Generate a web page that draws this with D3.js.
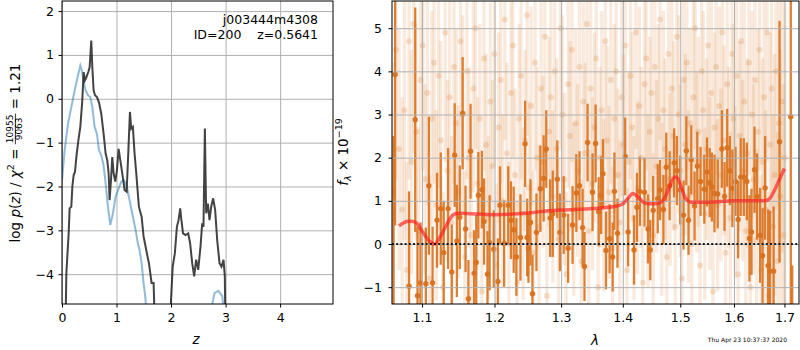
<!DOCTYPE html>
<html>
<head>
<meta charset="utf-8">
<script src="https://cdn.jsdelivr.net/npm/d3@7"></script>
<style>
  body { margin: 0; background: #fff; }
  text { font-family: "DejaVu Sans", sans-serif; }
</style>
</head>
<body>
<svg id="chart" width="800" height="350"></svg>
<script>
// ---- left panel: log p(z) curves ----
var zBlack = [0.06, 0.08, 0.122, 0.14, 0.171, 0.19, 0.214, 0.238, 0.263, 0.3, 0.336, 0.372, 0.397, 0.42, 0.446, 0.482, 0.507, 0.537, 0.556, 0.58,
  0.605, 0.641, 0.678, 0.72, 0.763, 0.8, 0.83, 0.855, 0.873, 0.898, 0.922, 0.947, 0.977, 1.008, 1.038, 1.069, 1.105, 1.148, 1.185, 1.215,
  1.246, 1.27, 1.3, 1.331, 1.362, 1.41, 1.46, 1.496, 1.545, 1.594, 1.643, 1.68, 1.71, 1.98, 2.0, 2.03, 2.07, 2.107, 2.137, 2.168,
  2.19, 2.22, 2.266, 2.315, 2.35, 2.388, 2.424, 2.46, 2.498, 2.54, 2.571, 2.595, 2.62, 2.644, 2.675, 2.705, 2.736, 2.772, 2.809, 2.846,
  2.889, 2.925, 2.962, 2.986, 3.0];
var pBlack = [-5.5, -3.98, -3.07, -2.5, -2.46, -2.0, -1.74, -1.67, -1.33, -0.95, -0.64, -0.04, 0.61, 0.42, 0.49, 0.61, 0.72, 1.33, 0.72, 0.19,
  0.08, 0.04, -0.08, -0.34, -0.8, -1.25, -1.4, -1.7, -2.31, -1.86, -1.33, -1.7, -1.89, -1.63, -1.14, -1.4, -1.7, -2.08, -2.12, -1.25,
  -0.3, -0.68, -0.64, -1.25, -1.7, -2.46, -2.69, -3.14, -3.45, -3.75, -4.2, -4.2, -5.5, -5.5, -4.58, -3.83, -3.52, -2.92, -2.77, -2.5,
  -2.77, -3.07, -3.11, -3.07, -3.3, -3.75, -4.05, -3.67, -3.9, -3.37, -2.84, -2.92, -0.68, -2.61, -2.39, -2.77, -2.46, -2.27, -2.54, -3.22,
  -3.75, -3.83, -3.67, -4.05, -5.5];
var zBlue = [0.0, 0.049, 0.11, 0.171, 0.232, 0.293, 0.336, 0.366, 0.397, 0.434, 0.476, 0.519, 0.556, 0.598, 0.641, 0.678, 0.72, 0.763, 0.8, 0.843,
  0.885, 0.934, 0.983, 1.038, 1.087, 1.136, 1.19, 1.252, 1.3, 1.35, 1.392, 1.423, 1.46, 1.496, 1.533, 1.56, 2.7, 2.72, 2.797, 2.87,
  2.94, 2.98];
var pBlue = [-1.86, -1.17, -0.57, -0.19, 0.19, 0.53, 0.76, 0.64, 0.38, 0.19, 0.08, 0.04, -0.19, -0.64, -0.8, -1.17, -1.29, -1.52, -1.93, -2.46,
  -2.88, -2.61, -2.23, -2.05, -1.89, -1.86, -2.0, -2.39, -2.69, -2.99, -3.3, -3.45, -3.75, -4.2, -4.58, -5.5, -5.5, -4.9, -4.43, -4.38,
  -4.5, -5.0];
var zTicks = [0, 1, 2, 3, 4];
var pTicks = [-4, -3, -2, -1, 0, 1, 2];

// ---- right panel: spectrum ----
// faint (other) spectral pixels
var waveFaint = [1.062, 1.066, 1.070, 1.074, 1.077, 1.080, 1.083, 1.086, 1.089, 1.092, 1.095, 1.098, 1.101, 1.104, 1.107, 1.110, 1.113, 1.116, 1.119, 1.122,
  1.125, 1.128, 1.131, 1.134, 1.137, 1.140, 1.143, 1.146, 1.149, 1.152, 1.155, 1.158, 1.161, 1.164, 1.167, 1.170, 1.173, 1.176, 1.179, 1.182,
  1.185, 1.188, 1.191, 1.194, 1.197, 1.200, 1.203, 1.206, 1.209, 1.212, 1.215, 1.218, 1.221, 1.224, 1.227, 1.230, 1.233, 1.236, 1.239, 1.242,
  1.245, 1.248, 1.251, 1.254, 1.257, 1.260, 1.263, 1.266, 1.269, 1.272, 1.275, 1.278, 1.281, 1.284, 1.287, 1.290, 1.293, 1.296, 1.299, 1.302,
  1.305, 1.308, 1.311, 1.314, 1.317, 1.320, 1.323, 1.326, 1.329, 1.332, 1.335, 1.338, 1.341, 1.344, 1.347, 1.350, 1.353, 1.356, 1.359, 1.362,
  1.365, 1.368, 1.371, 1.374, 1.377, 1.380, 1.383, 1.386, 1.389, 1.392, 1.395, 1.398, 1.401, 1.404, 1.407, 1.410, 1.413, 1.416, 1.419, 1.422,
  1.425, 1.428, 1.431, 1.434, 1.437, 1.440, 1.443, 1.446, 1.449, 1.452, 1.455, 1.458, 1.461, 1.464, 1.467, 1.470, 1.473, 1.476, 1.479, 1.482,
  1.485, 1.488, 1.491, 1.494, 1.497, 1.500, 1.503, 1.506, 1.509, 1.512, 1.515, 1.518, 1.521, 1.524, 1.527, 1.530, 1.533, 1.536, 1.539, 1.542,
  1.545, 1.548, 1.551, 1.554, 1.557, 1.560, 1.563, 1.566, 1.569, 1.572, 1.575, 1.578, 1.581, 1.584, 1.587, 1.590, 1.593, 1.596, 1.599, 1.602,
  1.605, 1.608, 1.611, 1.614, 1.617, 1.620, 1.623, 1.626, 1.629, 1.632, 1.635, 1.638, 1.641, 1.644, 1.647, 1.650, 1.653, 1.656, 1.659, 1.662,
  1.665, 1.668, 1.671, 1.674, 1.677, 1.680, 1.683, 1.686, 1.689, 1.692, 1.695, 1.698, 1.701];
var fluxFaint = [1.2, 4.5, 2.2, 0.8, 3.1, -0.6, 4.7, 1.9, 5.1, 2.6, 0.3, 3.8, 4.6, 1.5, 3.5, -0.8, 2.9, 4.2, 0.9, 3.9,
  2.4, -1.0, 4.9, 1.7, 3.4, 0.5, 4.1, 2.8, 1.2, 4.7, 3.0, -0.3, 4.0, 2.0, 0.2, 3.6, 5.0, 1.4, 2.9, -1.1,
  4.3, 2.3, 0.6, 3.3, 1.8, 4.4, -0.5, 2.7, 3.8, 1.0, 5.2, 2.1, 0.0, 3.5, 4.6, 1.6, -0.9, 2.9, 3.9, 0.7,
  2.4, 5.3, 1.3, 3.2, -0.2, 4.2, 2.0, 0.4, 3.6, 1.9, 4.8, -1.2, 2.6, 3.4, 1.1, 4.0, 2.2, 0.1, 5.0, 3.0,
  1.5, -0.7, 3.7, 2.5, 4.5, 0.8, 2.8, 1.7, 4.1, -0.4, 3.3, 2.1, 5.1, 0.3, 3.6, 1.4, 2.7, 4.3, -1.0, 2.0,
  3.1, 0.9, 4.7, 2.4, 1.2, 3.8, -0.1, 2.9, 4.0, 1.6, 0.5, 3.4, 2.3, 4.6, -0.6, 1.9, 3.9, 2.7, 0.6, 4.9,
  1.3, 3.2, 2.0, -0.9, 3.7, 4.3, 1.0, 2.6, 3.5, 0.2, 4.1, 1.8, 2.9, 5.2, 0.8, 3.1, 2.2, -0.3, 4.4, 1.5,
  3.6, 2.5, 0.4, 4.8, 3.0, 1.7, -0.8, 3.8, 2.3, 4.2, 1.1, 2.8, 0.0, 3.4, 5.0, 1.9, 2.6, -0.5, 4.0, 3.1,
  0.7, 2.2, 4.6, 1.4, 3.5, -1.1, 2.7, 4.1, 0.9, 3.2, 1.6, 4.9, 2.4, -0.2, 3.7, 2.0, 0.6, 4.4, 2.9, 1.2,
  3.9, -0.7, 2.5, 4.7, 1.7, 3.3, 0.3, 2.1, 4.2, -1.0, 3.0, 1.5, 3.8, 0.1, 2.6, 4.5, -0.6, 1.9, 3.4, 0.8,
  4.9, -1.2, 2.3, 3.6, 0.4, 1.6, 4.0, -0.4, 2.8, 1.1, 3.3, 0.2, 2.0];
var errFaint = [3.0, 3.0, 2.8, 2.6, 3.0, 2.5, 3.2, 2.6, 3.0, 2.5, 2.4, 2.8, 2.9, 2.2, 2.6, 2.4, 2.5, 2.8, 2.2, 2.6,
  2.3, 2.2, 3.0, 2.1, 2.5, 2.0, 2.7, 2.2, 2.0, 2.8, 2.3, 2.0, 2.5, 2.1, 1.9, 2.4, 2.8, 2.0, 2.2, 2.0,
  2.6, 2.1, 1.9, 2.3, 2.0, 2.6, 1.9, 2.2, 2.4, 2.0, 2.8, 2.1, 1.9, 2.3, 2.6, 2.0, 1.9, 2.2, 2.4, 2.0,
  2.1, 2.8, 2.0, 2.3, 1.9, 2.5, 2.1, 1.9, 2.3, 2.0, 2.7, 2.0, 2.2, 2.3, 2.0, 2.5, 2.1, 1.9, 2.8, 2.3,
  2.0, 1.9, 2.4, 2.2, 2.6, 2.0, 2.2, 2.0, 2.5, 1.9, 2.3, 2.1, 2.8, 1.9, 2.4, 2.0, 2.2, 2.6, 2.0, 2.1,
  2.3, 2.0, 2.7, 2.2, 2.0, 2.4, 1.9, 2.2, 2.5, 2.0, 1.9, 2.3, 2.1, 2.6, 1.9, 2.1, 2.4, 2.2, 1.9, 2.7,
  2.0, 2.3, 2.1, 1.9, 2.4, 2.6, 2.0, 2.2, 2.3, 1.9, 2.5, 2.0, 2.2, 2.8, 2.0, 2.3, 2.1, 1.9, 2.6, 2.0,
  2.4, 2.2, 1.9, 2.7, 2.3, 2.0, 1.9, 2.4, 2.1, 2.5, 2.0, 2.2, 1.9, 2.3, 2.8, 2.1, 2.2, 1.9, 2.5, 2.3,
  2.0, 2.1, 2.6, 2.0, 2.3, 2.0, 2.2, 2.5, 2.0, 2.3, 2.0, 2.7, 2.2, 1.9, 2.4, 2.1, 2.0, 2.6, 2.2, 2.0,
  2.4, 1.9, 2.2, 2.7, 2.1, 2.3, 2.0, 2.2, 2.6, 2.0, 2.4, 2.2, 2.6, 2.1, 2.4, 2.8, 2.2, 2.4, 2.6, 2.3,
  3.0, 2.4, 2.6, 2.9, 2.6, 2.8, 3.2, 3.0, 3.2, 3.4, 3.5, 3.5, 3.6];

// main (opaque) spectral pixels
var waveOp = [1.063, 1.065, 1.083, 1.091, 1.094, 1.098, 1.105, 1.109, 1.114, 1.120,
  1.125, 1.129, 1.135, 1.140, 1.144, 1.147, 1.151, 1.155, 1.159, 1.163,
  1.166, 1.171, 1.174, 1.177, 1.182, 1.185, 1.190, 1.193, 1.199, 1.205,
  1.208, 1.214, 1.220, 1.224, 1.228, 1.232, 1.238, 1.245, 1.248, 1.250,
  1.253, 1.256, 1.262, 1.268, 1.273, 1.277, 1.283, 1.287, 1.294, 1.298,
  1.304, 1.311, 1.318, 1.324, 1.329, 1.334, 1.337, 1.342, 1.350, 1.355,
  1.360, 1.364, 1.367, 1.372, 1.378, 1.383, 1.386, 1.391, 1.404, 1.409,
  1.419, 1.424, 1.429, 1.437, 1.443, 1.447, 1.452, 1.460, 1.464, 1.470,
  1.475, 1.481, 1.489, 1.494, 1.500, 1.506, 1.511, 1.515, 1.520, 1.526,
  1.531, 1.537, 1.544, 1.549, 1.554, 1.558, 1.563, 1.569, 1.577, 1.582,
  1.587, 1.592, 1.597, 1.603, 1.608, 1.613, 1.619, 1.625, 1.630, 1.634,
  1.640, 1.645, 1.651, 1.656, 1.661, 1.667, 1.671, 1.678, 1.690, 1.713,
  1.716];
var fluxOp = [-2.0, 3.93, -0.98, 2.88, -1.2, -0.9, -0.92, 1.35, -0.9, 0.55,
  0.82, -0.2, 0.82, -0.65, 2.06, 0.07, 0.62, 3.03, 0.35, -1.27,
  2.15, -0.68, -0.43, 1.13, 1.26, 0.52, -0.7, 0.03, -0.12, -0.87,
  0.9, 0.01, 0.9, 0.55, 0.33, -0.3, 0.15, 2.32, 0.15, -0.1,
  0.5, -1.15, 0.27, 1.28, 1.52, 2.2, 0.6, 0.7, 1.5, 0.27,
  0.67, -0.1, 0.44, 1.18, 1.35, 0.38, -0.52, 2.35, 1.2, 2.33,
  0.75, 1.13, 1.63, -0.15, 0.12, -0.3, 1.22, 0.25, 2.03, 0.28,
  -0.14, 0.85, 1.22, 1.2, 0.35, -0.14, 0.78, 1.05, 1.25, 0.8,
  1.78, 1.35, 1.88, 1.7, 1.25, 0.67, 2.16, 0.55, 1.95, 0.88,
  1.8, 1.45, 1.27, 1.67, 1.42, 1.32, 1.17, 1.16, 2.2, 1.1,
  2.23, 1.7, 1.29, 1.45, 0.57, 1.55, 1.55, 1.45, 0.13, 0.28,
  1.72, 1.1, 0.2, -0.27, 1.3, -0.5, -0.63, -0.63, 2.37, 2.95,
  -3.5];
var errOp = [4.5, 3.5, 2.2, 2.6, 1.6, 1.4, 1.3, 1.6, 1.3, 1.1,
  1.3, 1.2, 1.4, 1.1, 1.2, 1.3, 1.2, 1.3, 1.0, 0.9,
  1.1, 1.0, 1.1, 1.0, 0.9, 1.0, 1.0, 1.1, 0.9, 1.0,
  0.9, 1.0, 0.9, 0.9, 1.0, 0.9, 1.0, 1.0, 0.9, 0.8,
  1.0, 0.9, 0.9, 1.0, 1.0, 0.9, 0.9, 1.0, 0.9, 0.9,
  0.9, 0.8, 0.9, 0.9, 0.8, 0.9, 0.8, 0.9, 0.9, 0.9,
  0.8, 0.9, 0.8, 0.9, 0.8, 0.8, 0.9, 0.8, 0.9, 0.8,
  0.8, 0.8, 0.8, 0.8, 0.8, 0.7, 0.8, 0.8, 0.7, 0.8,
  0.8, 0.8, 0.8, 0.8, 0.8, 0.8, 0.8, 0.8, 0.8, 0.8,
  0.8, 0.8, 0.8, 0.8, 0.8, 0.8, 0.9, 0.8, 0.9, 0.8,
  0.9, 0.8, 0.9, 0.8, 0.9, 0.9, 0.9, 0.9, 1.0, 1.0,
  1.0, 1.0, 1.1, 1.1, 1.2, 1.3, 1.4, 1.5, 2.8, 4.5,
  3.0];

// best-fit model
var waveModel = [1.07, 1.075, 1.08, 1.087, 1.093, 1.10, 1.107, 1.113, 1.117, 1.122, 1.13, 1.138, 1.145, 1.15, 1.2, 1.25, 1.28, 1.30, 1.35, 1.39,
  1.40, 1.41, 1.417, 1.425, 1.435, 1.445, 1.46, 1.47, 1.48, 1.49, 1.495, 1.50, 1.51, 1.52, 1.55, 1.60, 1.66, 1.67, 1.68, 1.69, 1.70];
var fluxModel = [0.42, 0.48, 0.52, 0.53, 0.48, 0.3, 0.12, 0.02, 0.0, 0.1, 0.35, 0.6, 0.7, 0.71, 0.68, 0.72, 0.77, 0.79, 0.82, 0.88,
  0.93, 1.08, 1.17, 1.1, 0.97, 0.93, 0.94, 1.02, 1.3, 1.55, 1.53, 1.38, 1.05, 0.97, 0.97, 1.0, 1.0, 1.05, 1.25, 1.5, 1.75];

var lamTicks = [1.1, 1.2, 1.3, 1.4, 1.5, 1.6, 1.7];
var fTicks = [-1, 0, 1, 2, 3, 4, 5];

const svg = d3.select('#chart');
const orange = '#d9711d';
const gridColor = '#b0b0b0';

// ---------------- left panel ----------------
const L = { left: 62, right: 333, top: 1, bottom: 304 };
const xz = d3.scaleLinear().domain([0, 4.97]).range([L.left, L.right]);
const yp = d3.scaleLinear().domain([-4.68, 2.23]).range([L.bottom, L.top]);

svg.append('clipPath').attr('id', 'clipL')
  .append('rect').attr('x', L.left).attr('y', L.top)
  .attr('width', L.right - L.left).attr('height', L.bottom - L.top);

// grid
svg.append('g').attr('transform', `translate(0,${L.bottom})`)
  .call(d3.axisBottom(xz).tickValues(zTicks).tickSize(-(L.bottom - L.top)).tickFormat(''))
  .call(g => g.select('.domain').remove())
  .selectAll('line').attr('stroke', gridColor).attr('stroke-width', 1);
svg.append('g').attr('transform', `translate(${L.left},0)`)
  .call(d3.axisLeft(yp).tickValues(pTicks).tickSize(-(L.right - L.left)).tickFormat(''))
  .call(g => g.select('.domain').remove())
  .selectAll('line').attr('stroke', gridColor).attr('stroke-width', 1);

const lineL = (xs, ys) => d3.line().x((d, i) => xz(xs[i])).y((d, i) => yp(ys[i]))(xs);

const gl = svg.append('g').attr('clip-path', 'url(#clipL)');
gl.append('path').attr('d', lineL(zBlue, pBlue))
  .attr('fill', 'none').attr('stroke', '#1f77b4').attr('stroke-opacity', 0.5).attr('stroke-width', 2);
gl.append('path').attr('d', lineL(zBlack, pBlack))
  .attr('fill', 'none').attr('stroke', '#222').attr('stroke-opacity', 0.85).attr('stroke-width', 2);

// axes
const axL = svg.append('g').attr('transform', `translate(0,${L.bottom})`)
  .call(d3.axisBottom(xz).tickValues(zTicks).tickSize(3.5).tickPadding(6).tickFormat(d3.format('d')));
const ayL = svg.append('g').attr('transform', `translate(${L.left},0)`)
  .call(d3.axisLeft(yp).tickValues(pTicks).tickSize(3.5).tickPadding(4.5).tickFormat(d => d < 0 ? '\u2212' + Math.abs(d) : d));
[axL, ayL].forEach(a => {
  a.select('.domain').remove();
  a.selectAll('text').attr('font-size', 12.5).attr('fill', '#000').attr('font-family', 'DejaVu Sans');
  a.selectAll('line').attr('stroke', '#000');
});
svg.append('rect').attr('x', L.left).attr('y', L.top)
  .attr('width', L.right - L.left).attr('height', L.bottom - L.top)
  .attr('fill', 'none').attr('stroke', '#000').attr('stroke-width', 1);

svg.append('text').attr('x', 318).attr('y', 24).attr('text-anchor', 'end')
  .attr('font-size', 12.5).text('j003444m4308');
svg.append('text').attr('x', 318).attr('y', 39).attr('text-anchor', 'end')
  .attr('font-size', 12.5).style('white-space', 'pre').text('ID=200    z=0.5641');

svg.append('text').attr('x', 196).attr('y', 344).attr('text-anchor', 'middle')
  .attr('font-size', 13.5).attr('font-style', 'italic').text('z');

// rotated math label builder
function mathLabel(cx, cy, parts) {
  const g = svg.append('g').attr('transform', `translate(${cx},${cy}) rotate(-90)`);
  let x = 0;
  parts.forEach(p => {
    if (p.frac) {
      const n = g.append('text').attr('font-size', p.size).attr('y', p.ny).text(p.frac[0]);
      const d = g.append('text').attr('font-size', p.size).attr('y', p.dy).text(p.frac[1]);
      const wn = n.node().getComputedTextLength(), wd = d.node().getComputedTextLength();
      const w = Math.max(wn, wd) + 2;
      n.attr('x', x + (w - wn) / 2);
      d.attr('x', x + (w - wd) / 2);
      g.append('line').attr('x1', x).attr('x2', x + w).attr('y1', p.ly).attr('y2', p.ly)
        .attr('stroke', '#000').attr('stroke-width', 0.8);
      x += w;
    } else {
      const t = g.append('text').attr('x', x).attr('y', p.y || 0)
        .attr('font-size', p.size || 13.5).attr('font-style', p.it ? 'italic' : 'normal')
        .style('white-space', 'pre').text(p.t);
      x += t.node().getComputedTextLength();
    }
  });
  g.selectAll('*').each(function () {
    const s = d3.select(this);
    if (this.tagName === 'line') {
      s.attr('x1', +s.attr('x1') - x / 2).attr('x2', +s.attr('x2') - x / 2);
    } else {
      s.attr('x', +s.attr('x') - x / 2);
    }
  });
}

mathLabel(20, 153, [
  { t: 'log ' }, { t: 'p', it: true }, { t: '(' }, { t: 'z', it: true }, { t: ') / ' },
  { t: '\u03c7', it: true }, { t: '2', size: 9.5, y: -6 }, { t: ' = ' },
  { frac: ['10955', '9063'], size: 9, ny: -7.5, dy: 1.5, ly: -4.6 },
  { t: ' = 1.21' }
]);

// ---------------- right panel ----------------
const R = { left: 392, right: 799, top: 1, bottom: 304 };
const xl = d3.scaleLog().domain([1.061, 1.730]).range([R.left, R.right]);
const yf = d3.scaleLinear().domain([-1.39, 5.63]).range([R.bottom, R.top]);

svg.append('clipPath').attr('id', 'clipR')
  .append('rect').attr('x', R.left).attr('y', R.top)
  .attr('width', R.right - R.left).attr('height', R.bottom - R.top);

const gr = svg.append('g').attr('clip-path', 'url(#clipR)');

// faint points
gr.append('g').selectAll('line').data(waveFaint).join('line')
  .attr('x1', d => xl(d)).attr('x2', d => xl(d))
  .attr('y1', (d, i) => yf(fluxFaint[i] - errFaint[i]))
  .attr('y2', (d, i) => yf(fluxFaint[i] + errFaint[i]))
  .attr('stroke', orange).attr('stroke-opacity', 0.15).attr('stroke-width', 3.3);
gr.append('g').selectAll('circle').data(waveFaint).join('circle')
  .attr('cx', d => xl(d)).attr('cy', (d, i) => yf(fluxFaint[i]))
  .attr('r', 3).attr('fill', orange).attr('fill-opacity', 0.2);

// main points
gr.append('g').selectAll('line').data(waveOp).join('line')
  .attr('x1', d => xl(d)).attr('x2', d => xl(d))
  .attr('y1', (d, i) => yf(fluxOp[i] - errOp[i]))
  .attr('y2', (d, i) => yf(fluxOp[i] + errOp[i]))
  .attr('stroke', orange).attr('stroke-opacity', 0.9).attr('stroke-width', 2.3);
gr.append('g').selectAll('circle').data(waveOp).join('circle')
  .attr('cx', d => xl(d)).attr('cy', (d, i) => yf(fluxOp[i]))
  .attr('r', 2.7).attr('fill', orange).attr('fill-opacity', 0.95);

// grid above data
svg.append('g').attr('transform', `translate(0,${R.bottom})`)
  .call(d3.axisBottom(xl).tickValues(lamTicks).tickSize(-(R.bottom - R.top)).tickFormat(''))
  .call(g => g.select('.domain').remove())
  .selectAll('line').attr('stroke', gridColor).attr('stroke-width', 1);
svg.append('g').attr('transform', `translate(${R.left},0)`)
  .call(d3.axisLeft(yf).tickValues(fTicks).tickSize(-(R.right - R.left)).tickFormat(''))
  .call(g => g.select('.domain').remove())
  .selectAll('line').attr('stroke', gridColor).attr('stroke-width', 1);

// model + zero line
const gm = svg.append('g').attr('clip-path', 'url(#clipR)');
gm.append('path')
  .attr('d', d3.line().curve(d3.curveMonotoneX).x((d, i) => xl(waveModel[i])).y((d, i) => yf(fluxModel[i]))(waveModel))
  .attr('fill', 'none').attr('stroke', '#ff1a1a').attr('stroke-opacity', 0.65).attr('stroke-width', 3.5);
gm.append('line').attr('x1', R.left).attr('x2', R.right).attr('y1', yf(0)).attr('y2', yf(0))
  .attr('stroke', '#000').attr('stroke-width', 2).attr('stroke-dasharray', '2,2.2').attr('stroke-opacity', 0.85);

const axR = svg.append('g').attr('transform', `translate(0,${R.bottom})`)
  .call(d3.axisBottom(xl).tickValues(lamTicks).tickSize(3.5).tickPadding(6).tickFormat(d3.format('.1f')));
const ayR = svg.append('g').attr('transform', `translate(${R.left},0)`)
  .call(d3.axisLeft(yf).tickValues(fTicks).tickSize(3.5).tickPadding(6.5).tickFormat(d => d < 0 ? '\u2212' + Math.abs(d) : d));
[axR, ayR].forEach(a => {
  a.select('.domain').remove();
  a.selectAll('text').attr('font-size', 12.5).attr('fill', '#000').attr('font-family', 'DejaVu Sans');
  a.selectAll('line').attr('stroke', '#000');
});
svg.append('rect').attr('x', R.left).attr('y', R.top)
  .attr('width', R.right - R.left).attr('height', R.bottom - R.top)
  .attr('fill', 'none').attr('stroke', '#000').attr('stroke-width', 1);

svg.append('text').attr('x', 595).attr('y', 345).attr('text-anchor', 'middle')
  .attr('font-size', 13.5).attr('font-style', 'italic').text('\u03bb');

mathLabel(348, 152, [
  { t: 'f', it: true }, { t: '\u03bb', it: true, size: 9.5, y: 3 }, { t: ' \u00d7 10' },
  { t: '\u221219', size: 9.5, y: -6 }
]);

svg.append('text').attr('x', 787).attr('y', 342).attr('text-anchor', 'end')
  .attr('font-size', 6).text('Thu Apr 23 10:37:37 2020');
</script>
</body>
</html>
